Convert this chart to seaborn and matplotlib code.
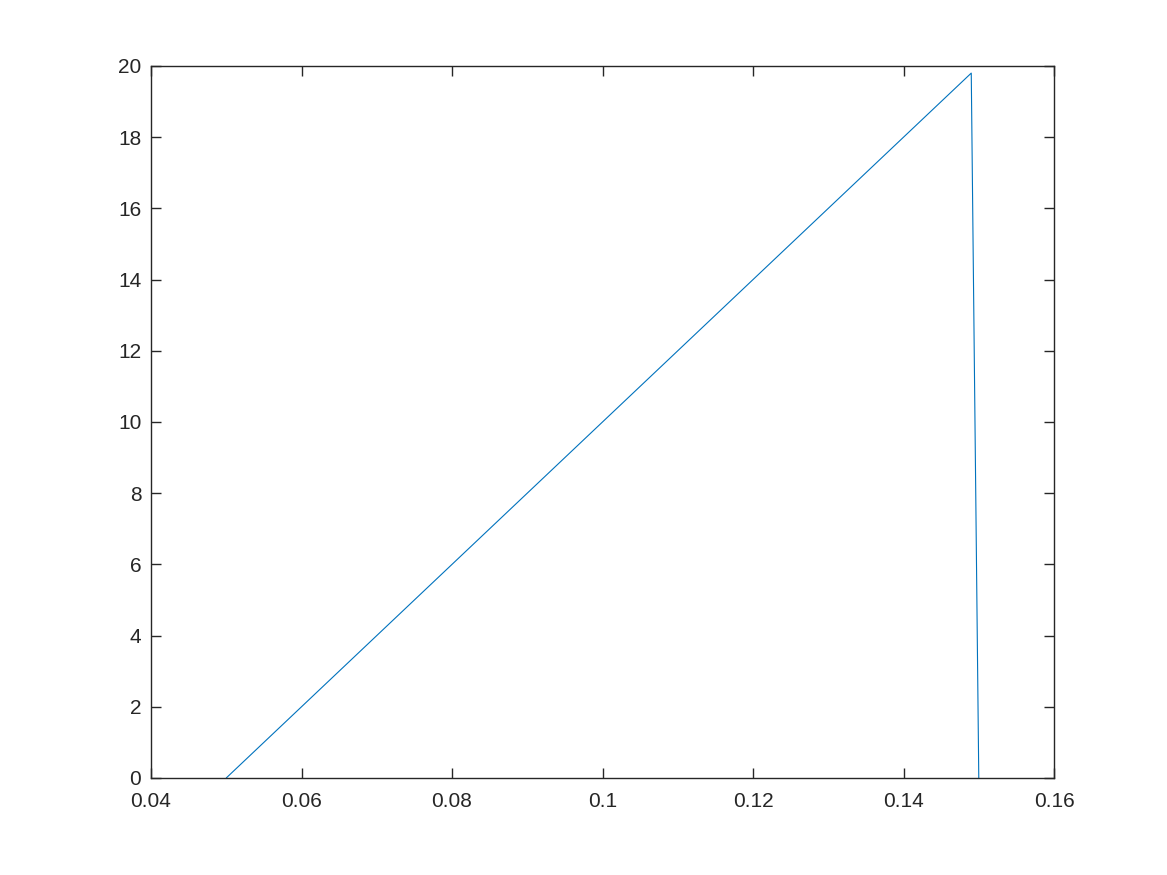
import numpy as np
import pandas as pd
import matplotlib
matplotlib.use("Agg")
import matplotlib.pyplot as plt
import seaborn as sns

sns.set_style('ticks')
plt.rcParams['font.family'] = ['Liberation Sans', 'DejaVu Sans']

# %%
# data: a ramp up and a sharp drop
x_vals = [0.05, 0.149, 0.15]
y_vals = [0.0, 19.8, 0.0]
df = pd.DataFrame({"x": x_vals, "y": y_vals})

x_ticks = [0.04, 0.06, 0.08, 0.1, 0.12, 0.14, 0.16]
x_ticklabels = ["0.04", "0.06", "0.08", "0.1", "0.12", "0.14", "0.16"]
y_ticks = list(range(0, 21, 2))

# %%
fig = plt.figure(figsize=(11.67, 8.75), dpi=100)
ax = fig.add_axes([0.1294, 0.1109, 0.7738, 0.8137])

sns.lineplot(data=df, x="x", y="y", sort=False, estimator=None, ax=ax,
             color="#0072BD", lw=0.8)

ax.set_xlim(0.04, 0.16)
ax.set_ylim(0, 20)
ax.set_xticks(x_ticks)
ax.set_xticklabels(x_ticklabels)
ax.set_yticks(y_ticks)
ax.set_xlabel("")
ax.set_ylabel("")

for s in ax.spines.values():
    s.set_visible(True)
    s.set_color("#262626")
    s.set_linewidth(1.0)
ax.tick_params(direction="in", length=7, width=1.0, color="#262626",
               labelsize=15, labelcolor="#262626",
               top=True, right=True)
ax.tick_params(axis="x", pad=10)
ax.tick_params(axis="y", pad=7)

fig.savefig("out.png", dpi=100)
